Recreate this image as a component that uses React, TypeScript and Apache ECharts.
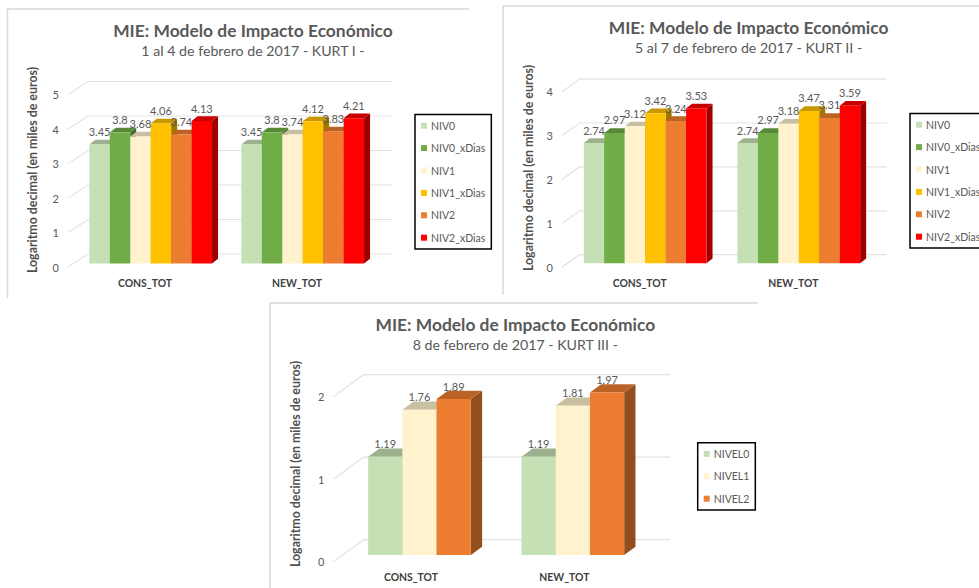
import React, { useEffect, useRef } from "react";
import * as echarts from "echarts";

const categories = ["CONS_TOT", "NEW_TOT"];
const seriesNames1 = ["NIV0", "NIV0_xDias", "NIV1", "NIV1_xDias", "NIV2", "NIV2_xDias"];
const seriesNames3 = ["NIVEL0", "NIVEL1", "NIVEL2"];
const colors1 = ["#C5E0B4", "#70AD47", "#FFF2CC", "#FFC000", "#ED7D31", "#FF0000"];
const colors3 = ["#C5E0B4", "#FFF2CC", "#ED7D31"];

const kurt1Values = [
  [3.45, 3.45],
  [3.8, 3.8],
  [3.68, 3.74],
  [4.06, 4.12],
  [3.74, 3.83],
  [4.13, 4.21],
];
const kurt2Values = [
  [2.74, 2.74],
  [2.97, 2.97],
  [3.12, 3.18],
  [3.42, 3.47],
  [3.24, 3.31],
  [3.53, 3.59],
];
const kurt3Values = [
  [1.19, 1.19],
  [1.76, 1.81],
  [1.89, 1.97],
];

const mainTitle = "MIE: Modelo de Impacto Económico";
const subtitles = [
  "1 al 4 de febrero de 2017 - KURT I -",
  "5 al 7 de febrero de 2017 - KURT II -",
  "8 de febrero de 2017 - KURT III -",
];
const yAxisTitle = "Logaritmo decimal (en miles de euros)";
const FONT = "Lato, 'Open Sans', sans-serif";
const GREY = "#595959";

function shade(hex: string, f: number) {
  const n = parseInt(hex.slice(1), 16);
  const c = [(n >> 16) & 255, (n >> 8) & 255, n & 255].map((v) => Math.round(v * f));
  return `rgb(${c[0]},${c[1]},${c[2]})`;
}

const layouts = [
  {
    names: seriesNames1, colors: colors1, values: kurt1Values, sub: subtitles[0], max: 5,
    grid: { left: 69, top: 94.5, width: 304, height: 172.5 },
    span: 122.7, shiftX: 5.7, shiftY: 3.5, dx: 6, dy: 4.7, wallDx: 19, wallDy: 13,
    titleX: 253, titleY: 20, subY: 44, axisTitleX: 32, axisTitleY: 170,
    legend: { left: 415, top: 114.5 }, xMargin: 11, yMargin: 10,
    frame: [[469, 9], [7.5, 9], [7.5, 298]],
  },
  {
    names: seriesNames1, colors: colors1, values: kurt2Values, sub: subtitles[1], max: 4,
    grid: { left: 562.9, top: 91.7, width: 307.2, height: 175.6 },
    span: 122.7, shiftX: 5.5, shiftY: 4, dx: 6, dy: 4.7, wallDx: 16.7, wallDy: 12.6,
    titleX: 748.6, titleY: 17, subY: 41, axisTitleX: 528, axisTitleY: 168,
    legend: { left: 910, top: 113.5 }, xMargin: 11, yMargin: 10,
    frame: [[979, 6], [503, 6], [503, 295]],
  },
  {
    names: seriesNames3, colors: colors3, values: kurt3Values, sub: subtitles[2], max: 2,
    grid: { left: 334.3, top: 396.7, width: 306.7, height: 165 },
    span: 102.7, shiftX: 8.5, shiftY: 6.7, dx: 11.3, dy: 8.3, wallDx: 29.3, wallDy: 22,
    titleX: 515.3, titleY: 314, subY: 338, axisTitleX: 295, axisTitleY: 464,
    legend: { left: 697.7, top: 442.7 }, xMargin: 10, yMargin: 10,
    frame: [[758, 303], [270, 303], [270, 588]],
  },
];

function buildOption() {
  const series: any[] = [];
  layouts.forEach((l, g) => {
    const ticks: number[] = [];
    for (let v = 0; v <= l.max; v++) ticks.push(v);
    series.push({
      type: "custom",
      name: `wall${g}`,
      xAxisIndex: g,
      yAxisIndex: g,
      silent: true,
      z: 1,
      data: ticks.map((t) => [0, t]),
      encode: { x: 0, y: 1 },
      renderItem: (params: any, api: any) => {
        const cs = params.coordSys;
        const y = api.coord([0, api.value(1)])[1];
        return {
          type: "polyline",
          shape: {
            points: [
              [cs.x - 1, y],
              [cs.x + l.wallDx, y - l.wallDy],
              [cs.x + cs.width + l.wallDx, y - l.wallDy],
            ],
          },
          style: { stroke: "#E3E3E3", lineWidth: 1.2, fill: "none" },
        };
      },
    });
    l.names.forEach((name, i) => {
      const color = l.colors[i];
      const w = l.span / l.names.length;
      series.push({
        type: "custom",
        name,
        xAxisIndex: g,
        yAxisIndex: g,
        z: 2,
        itemStyle: { color },
        data: l.values[i].map((v, c) => [c, v]),
        encode: { x: 0, y: 1 },
        renderItem: (_p: any, api: any) => {
          const c = api.value(0);
          const v = api.value(1);
          const top = api.coord([c, v]);
          const base = api.coord([c, 0]);
          const x0 = top[0] + l.shiftX - l.span / 2 + i * w;
          const x1 = x0 + w;
          const y0 = top[1] - l.shiftY;
          const yb = base[1] - l.shiftY;
          return {
            type: "group",
            children: [
              {
                type: "polygon",
                shape: { points: [[x1, y0], [x1 + l.dx, y0 - l.dy], [x1 + l.dx, yb - l.dy], [x1, yb]] },
                style: { fill: shade(color, 0.62) },
              },
              {
                type: "polygon",
                shape: { points: [[x0, y0], [x0 + l.dx, y0 - l.dy], [x1 + l.dx, y0 - l.dy], [x1, y0]] },
                style: { fill: shade(color, 0.79) },
              },
              { type: "rect", shape: { x: x0, y: y0, width: w, height: yb - y0 }, style: { fill: color } },
              {
                type: "text",
                z2: 100,
                style: {
                  text: String(v),
                  x: (x0 + x1) / 2,
                  y: y0 - 13,
                  align: "center",
                  verticalAlign: "middle",
                  fill: GREY,
                  fontSize: 11,
                  fontFamily: FONT,
                },
              },
            ],
          };
        },
      });
    });
  });

  return {
    animation: false,
    backgroundColor: "#FFFFFF",
    title: layouts.map((l) => ({
      text: mainTitle,
      subtext: l.sub,
      left: l.titleX,
      top: l.titleY,
      textAlign: "center",
      padding: 0,
      itemGap: 2,
      textStyle: { fontFamily: FONT, fontSize: 17.4, fontWeight: "bold", color: GREY, lineHeight: 20 },
      subtextStyle: { fontFamily: FONT, fontSize: 14.2, color: GREY, lineHeight: 17 },
    })),
    grid: layouts.map((l) => ({ ...l.grid, containLabel: false })),
    xAxis: layouts.map((l, g) => ({
      type: "category",
      gridIndex: g,
      data: categories,
      axisLine: { show: false },
      axisTick: { show: false },
      axisLabel: { margin: l.xMargin, fontFamily: FONT, fontSize: 10.4, fontWeight: "bold", color: "#404040" },
    })),
    yAxis: layouts.map((l, g) => ({
      type: "value",
      gridIndex: g,
      min: 0,
      max: l.max,
      interval: 1,
      axisLine: { show: false },
      axisTick: { show: false },
      splitLine: { show: false },
      axisLabel: { margin: l.yMargin, fontFamily: FONT, fontSize: 11, color: GREY },
    })),
    legend: layouts.map((l) => ({
      data: l.names,
      orient: "vertical",
      left: l.legend.left,
      top: l.legend.top,
      icon: "rect",
      itemWidth: 6,
      itemHeight: 6,
      itemGap: 11.4,
      padding: [5.7, 6, 5.8, 6],
      borderColor: "#000000",
      borderWidth: 1.5,
      selectedMode: false,
      textStyle: { fontFamily: FONT, fontSize: 10.5, color: GREY, padding: [0, 0, 0, -1] },
    })),
    graphic: layouts.flatMap((l) => [
      {
        type: "polyline",
        silent: true,
        shape: { points: l.frame },
        style: { stroke: "#D9D9D9", lineWidth: 1.5, fill: "none" },
      },
      {
        type: "text",
        silent: true,
        x: l.axisTitleX,
        y: l.axisTitleY,
        rotation: Math.PI / 2,
        style: {
          text: yAxisTitle,
          align: "center",
          verticalAlign: "middle",
          fontFamily: FONT,
          fontSize: 12.4,
          fontWeight: "bold",
          fill: "#505050",
        },
      },
    ]),
    series,
  };
}

export default function App() {
  const ref = useRef<HTMLDivElement>(null);
  useEffect(() => {
    const chart = echarts.init(ref.current!, undefined, { renderer: "svg" });
    chart.setOption(buildOption() as any);
    return () => chart.dispose();
  }, []);
  return <div ref={ref} style={{ position: "fixed", left: 0, top: 0, width: 979, height: 588 }} />;
}
